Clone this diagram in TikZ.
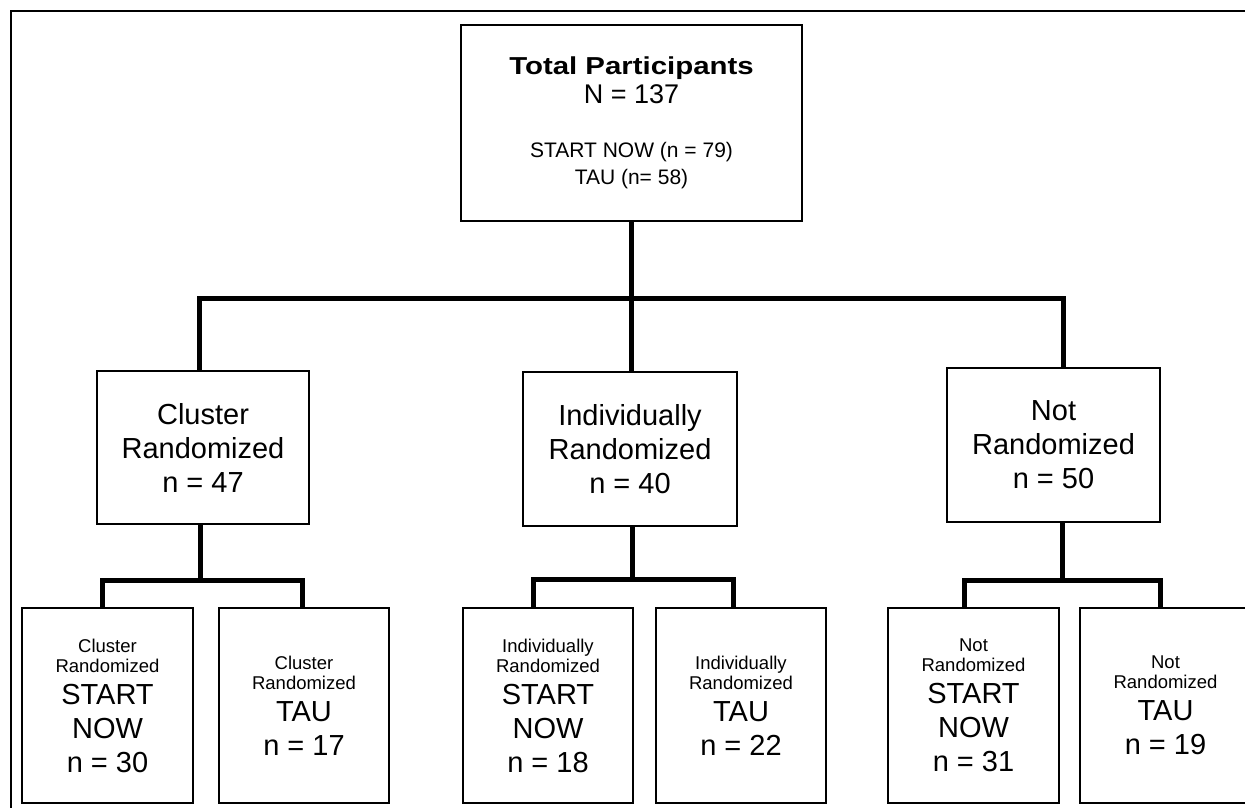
\documentclass[tikz,border=0pt]{standalone}
\usepackage{fontspec}
\setmainfont{Liberation Sans}
\usepackage{graphicx}
\newcommand{\smtxt}{\fontsize{18.5}{22}\selectfont}
\newcommand{\toptxt}{\fontsize{21}{25}\selectfont}
\begin{document}
\begin{tikzpicture}[x=1pt,y=-1pt,
  box/.style={draw, line width=1.6pt, inner sep=0pt, align=center, fill=white},
  midbox/.style={box, minimum width=213pt, minimum height=154pt, font=\fontsize{29}{34}\selectfont},
  lowbox/.style={box, minimum width=171pt, minimum height=195pt, font=\fontsize{29}{34}\selectfont},
  conn/.style={line width=5pt, line join=miter}]
\useasboundingbox (0,0) rectangle (1245,808);
\clip (0,0) rectangle (1245,808);
% outer frame
\draw[line width=1.8pt] (11,830) -- (11,11) -- (1260,11);

% top box
\node[box, minimum width=341pt, minimum height=196pt, font=\fontsize{27}{29}\selectfont] (top) at (631.5,123)
  {\scalebox{1.2}[1]{\fontsize{24.5}{29}\selectfont\bfseries Total Participants}\\
   N = 137\\[25pt]
   \toptxt START NOW (n = 79)\\[-2pt]
   \toptxt TAU (n= 58)};

% middle boxes
\node[midbox, minimum width=212pt, minimum height=153pt] (cl) at (203,447.5) {Cluster\\Randomized\\n = 47};
\node[midbox, minimum width=214pt] (ir) at (630,449) {Individually\\Randomized\\n = 40};
\node[midbox] (nr) at (1053.5,445) {Not\\Randomized\\n = 50};

% bottom boxes
\node[lowbox] (b1) at (107.5,705.5) {\smtxt Cluster\\[-14pt]\smtxt Randomized\\[-2pt]START\\NOW\\n = 30};
\node[lowbox, minimum width=170pt] (b2) at (304,705.5) {\smtxt Cluster\\[-14pt]\smtxt Randomized\\[-2pt]TAU\\n = 17};
\node[lowbox, minimum width=170pt] (b3) at (548,705.5) {\smtxt Individually\\[-14pt]\smtxt Randomized\\[-2pt]START\\NOW\\n = 18};
\node[lowbox, minimum width=170pt] (b4) at (741,705.5) {\smtxt Individually\\[-14pt]\smtxt Randomized\\[-2pt]TAU\\n = 22};
\node[lowbox] (b5) at (973.5,705.5) {\smtxt Not\\[-14pt]\smtxt Randomized\\[-2pt]START\\NOW\\n = 31};
\node[lowbox] (b6) at (1165.5,705.5) {\smtxt Not\\[-14pt]\smtxt Randomized\\[-2pt]TAU\\n = 19};

% connectors from top
\coordinate (hub) at (631.5,298);
\draw[conn] (top.south) -- (hub);
\draw[conn] ([xshift=-4pt]cl.north) |- (hub) -| ([xshift=9.5pt]nr.north);
\draw[conn] (hub) -- (ir.north -| hub);

% cluster fork
\coordinate (cfork) at (200,580);
\draw[conn] (cl.south -| cfork) -- (cfork);
\draw[conn] ([xshift=-5.5pt]b1.north) |- (cfork) -| ([xshift=-2pt]b2.north);

% individually fork
\coordinate (ifork) at (632,579);
\draw[conn] (ir.south -| ifork) -- (ifork);
\draw[conn] ([xshift=-15pt]b3.north) |- (ifork) -| ([xshift=-8pt]b4.north);

% not randomized fork
\coordinate (nfork) at (1062,580);
\draw[conn] (nr.south -| nfork) -- (nfork);
\draw[conn] ([xshift=-9.5pt]b5.north) |- (nfork) -| ([xshift=-5.5pt]b6.north);
\end{tikzpicture}
\end{document}
